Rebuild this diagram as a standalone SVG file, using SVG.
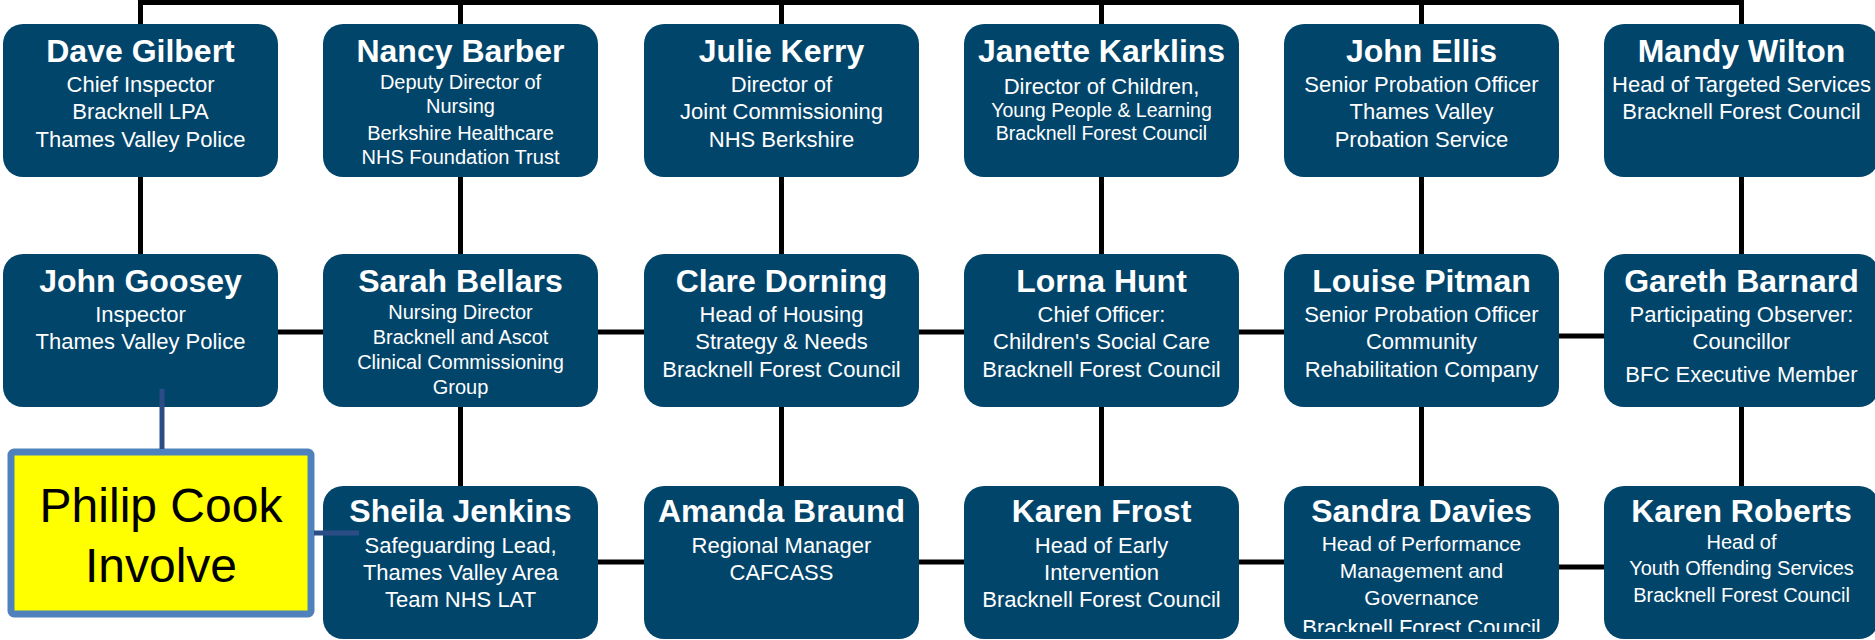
<svg xmlns="http://www.w3.org/2000/svg" width="1875" height="640" viewBox="0 0 1875 640">
<style>
.box{fill:#02456B}
.nm{font-family:"Liberation Sans",Arial,sans-serif;font-weight:bold;font-size:32px;fill:#fff;text-anchor:middle}
.t{font-family:"Liberation Sans",Arial,sans-serif;font-size:22px;fill:#fff;text-anchor:middle}
.s20{font-size:20px}
.s19{font-size:19.5px}
.s21{font-size:21px}
.ln{stroke:#000;stroke-width:5;fill:none}
.bl{stroke:#2C4C86;stroke-width:5;fill:none}
.py{font-family:"Liberation Sans",Arial,sans-serif;font-size:48px;fill:#000;text-anchor:middle}
</style>
<defs>
<clipPath id="clipSandra"><rect x="1284" y="486" width="275" height="146"/></clipPath>
</defs>
<g id="nodes">
<g id="dave-gilbert"><rect class="box" x="3" y="24" width="275" height="153" rx="20"/>
<text class="nm" x="140.5" y="62">Dave Gilbert</text>
<text class="t" x="140.5" y="92">Chief Inspector</text>
<text class="t" x="140.5" y="119">Bracknell LPA</text>
<text class="t" x="140.5" y="147">Thames Valley Police</text></g>
<g id="nancy-barber"><rect class="box" x="323" y="24" width="275" height="153" rx="20"/>
<text class="nm" x="460.5" y="62">Nancy Barber</text>
<text class="t s20" x="460.5" y="89">Deputy Director of</text>
<text class="t s20" x="460.5" y="113">Nursing</text>
<text class="t s20" x="460.5" y="140">Berkshire Healthcare</text>
<text class="t s20" x="460.5" y="164">NHS Foundation Trust</text></g>
<g id="julie-kerry"><rect class="box" x="644" y="24" width="275" height="153" rx="20"/>
<text class="nm" x="781.5" y="62">Julie Kerry</text>
<text class="t" x="781.5" y="92">Director of</text>
<text class="t" x="781.5" y="119">Joint Commissioning</text>
<text class="t" x="781.5" y="147">NHS Berkshire</text></g>
<g id="janette-karklins"><rect class="box" x="964" y="24" width="275" height="153" rx="20"/>
<text class="nm" x="1101.5" y="62">Janette Karklins</text>
<text class="t" x="1101.5" y="94">Director of Children,</text>
<text class="t s19" x="1101.5" y="117">Young People &amp; Learning</text>
<text class="t s19" x="1101.5" y="140">Bracknell Forest Council</text></g>
<g id="john-ellis"><rect class="box" x="1284" y="24" width="275" height="153" rx="20"/>
<text class="nm" x="1421.5" y="62">John Ellis</text>
<text class="t" x="1421.5" y="92">Senior Probation Officer</text>
<text class="t" x="1421.5" y="119">Thames Valley</text>
<text class="t" x="1421.5" y="147">Probation Service</text></g>
<g id="mandy-wilton"><rect class="box" x="1604" y="24" width="275" height="153" rx="20"/>
<text class="nm" x="1741.5" y="62">Mandy Wilton</text>
<text class="t" x="1741.5" y="92">Head of Targeted Services</text>
<text class="t" x="1741.5" y="119">Bracknell Forest Council</text></g>

<g id="john-goosey"><rect class="box" x="3" y="254" width="275" height="153" rx="20"/>
<text class="nm" x="140.5" y="292">John Goosey</text>
<text class="t" x="140.5" y="322">Inspector</text>
<text class="t" x="140.5" y="349">Thames Valley Police</text></g>
<g id="sarah-bellars"><rect class="box" x="323" y="254" width="275" height="153" rx="20"/>
<text class="nm" x="460.5" y="292">Sarah Bellars</text>
<text class="t s20" x="460.5" y="319">Nursing Director</text>
<text class="t s20" x="460.5" y="344">Bracknell and Ascot</text>
<text class="t s20" x="460.5" y="369">Clinical Commissioning</text>
<text class="t s20" x="460.5" y="394">Group</text></g>
<g id="clare-dorning"><rect class="box" x="644" y="254" width="275" height="153" rx="20"/>
<text class="nm" x="781.5" y="292">Clare Dorning</text>
<text class="t" x="781.5" y="322">Head of Housing</text>
<text class="t" x="781.5" y="349">Strategy &amp; Needs</text>
<text class="t" x="781.5" y="377">Bracknell Forest Council</text></g>
<g id="lorna-hunt"><rect class="box" x="964" y="254" width="275" height="153" rx="20"/>
<text class="nm" x="1101.5" y="292">Lorna Hunt</text>
<text class="t" x="1101.5" y="322">Chief Officer:</text>
<text class="t" x="1101.5" y="349">Children's Social Care</text>
<text class="t" x="1101.5" y="377">Bracknell Forest Council</text></g>
<g id="louise-pitman"><rect class="box" x="1284" y="254" width="275" height="153" rx="20"/>
<text class="nm" x="1421.5" y="292">Louise Pitman</text>
<text class="t" x="1421.5" y="322">Senior Probation Officer</text>
<text class="t" x="1421.5" y="349">Community</text>
<text class="t" x="1421.5" y="377">Rehabilitation Company</text></g>
<g id="gareth-barnard"><rect class="box" x="1604" y="254" width="275" height="153" rx="20"/>
<text class="nm" x="1741.5" y="292">Gareth Barnard</text>
<text class="t" x="1741.5" y="322">Participating Observer:</text>
<text class="t" x="1741.5" y="349">Councillor</text>
<text class="t" x="1741.5" y="382">BFC Executive Member</text></g>

<g id="philip-cook"><rect x="11" y="452" width="300" height="162" rx="3" fill="#FFFF00" stroke="#4F81BD" stroke-width="7"/>
<text class="py" x="161" y="522">Philip Cook</text>
<text class="py" x="161" y="582">Involve</text></g>
<g id="sheila-jenkins"><rect class="box" x="323" y="486" width="275" height="153" rx="20"/>
<text class="nm" x="460.5" y="522">Sheila Jenkins</text>
<text class="t" x="460.5" y="553">Safeguarding Lead,</text>
<text class="t" x="460.5" y="580">Thames Valley Area</text>
<text class="t" x="460.5" y="607">Team NHS LAT</text></g>
<g id="amanda-braund"><rect class="box" x="644" y="486" width="275" height="153" rx="20"/>
<text class="nm" x="781.5" y="522">Amanda Braund</text>
<text class="t" x="781.5" y="553">Regional Manager</text>
<text class="t" x="781.5" y="580">CAFCASS</text></g>
<g id="karen-frost"><rect class="box" x="964" y="486" width="275" height="153" rx="20"/>
<text class="nm" x="1101.5" y="522">Karen Frost</text>
<text class="t" x="1101.5" y="553">Head of Early</text>
<text class="t" x="1101.5" y="580">Intervention</text>
<text class="t" x="1101.5" y="607">Bracknell Forest Council</text></g>
<g id="sandra-davies"><rect class="box" x="1284" y="486" width="275" height="153" rx="20"/>
<g clip-path="url(#clipSandra)">
<text class="nm" x="1421.5" y="522">Sandra Davies</text>
<text class="t s21" x="1421.5" y="551">Head of Performance</text>
<text class="t s21" x="1421.5" y="578">Management and</text>
<text class="t s21" x="1421.5" y="605">Governance</text>
<text class="t" x="1421.5" y="635">Bracknell Forest Council</text></g></g>
<g id="karen-roberts"><rect class="box" x="1604" y="486" width="275" height="153" rx="20"/>
<text class="nm" x="1741.5" y="522">Karen Roberts</text>
<text class="t s20" x="1741.5" y="549">Head of</text>
<text class="t s20" x="1741.5" y="575">Youth Offending Services</text>
<text class="t s20" x="1741.5" y="602">Bracknell Forest Council</text></g>
</g>

<g id="connectors">
<path class="ln" d="M140.5 24V2.5H1741.5V24"/>
<path class="ln" d="M460.5 0V24M781.5 0V24M1101.5 0V24M1421.5 0V24"/>
<path class="ln" d="M140.5 177V254M460.5 177V254M781.5 177V254M1101.5 177V254M1421.5 177V254M1741.5 177V254"/>
<path class="ln" d="M460.5 407V486M781.5 407V486M1101.5 407V486M1421.5 407V486M1741.5 407V486"/>
<path class="ln" d="M278 332H323M598 332H644M919 332H964M1239 332H1284M1559 336H1604"/>
<path class="ln" d="M598 562H644M919 562H964M1239 562H1284M1559 567H1604"/>
<path class="bl" d="M162 389V449"/>
<path class="bl" d="M314 533H359"/>
</g>
</svg>
